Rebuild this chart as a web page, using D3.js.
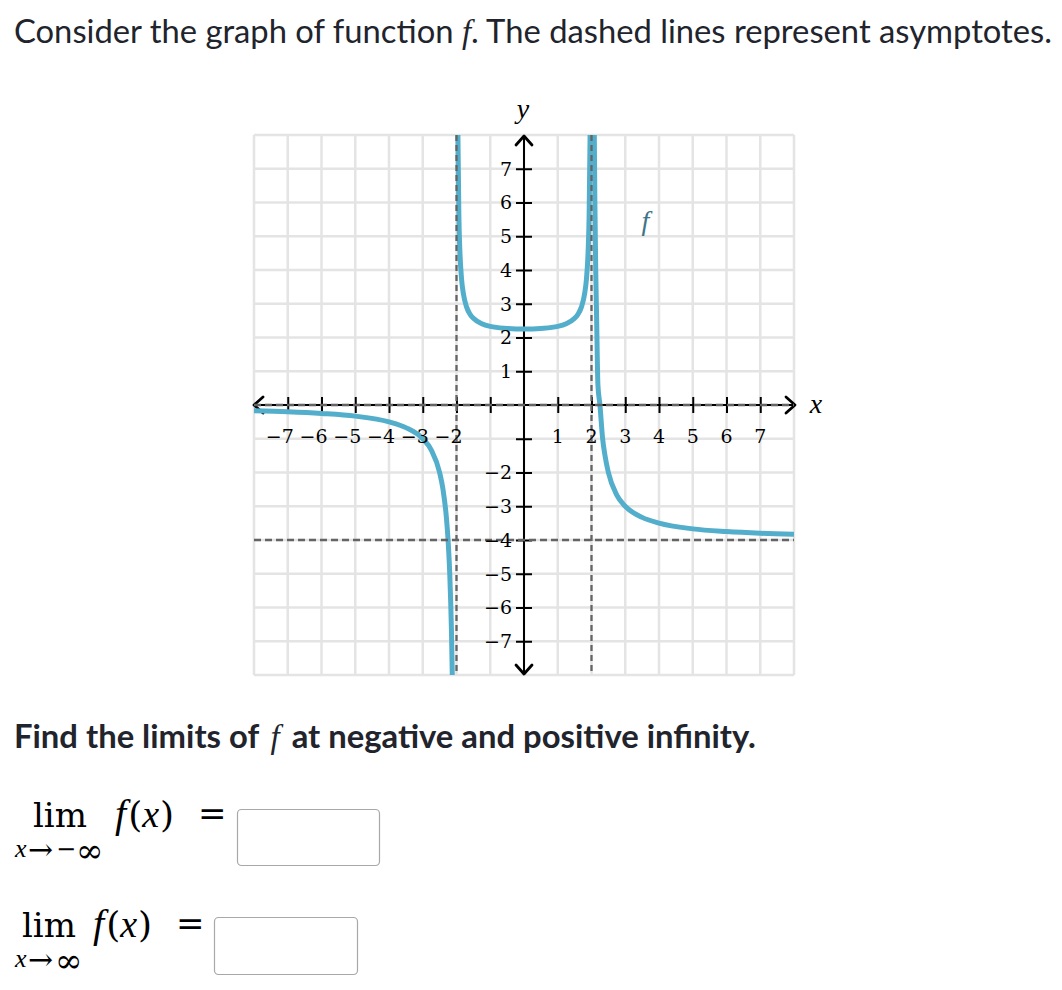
<!DOCTYPE html>
<html>
<head>
<meta charset="utf-8">
<script src="https://cdn.jsdelivr.net/npm/d3@7"></script>
<style>
  html, body { margin: 0; padding: 0; background: #fff; }
  svg { display: block; }
</style>
</head>
<body>
<svg id="chart" width="1062" height="990"></svg>
<script>
// ---------------- data ----------------
const xTickValues = [-7, -6, -5, -4, -3, -2, -1, 1, 2, 3, 4, 5, 6, 7];
const yTickValues = [-7, -6, -5, -4, -3, -2, -1, 1, 2, 3, 4, 5, 6, 7];
const xTickLabels = [-7, -6, -5, -4, -3, -2, 1, 2, 3, 4, 5, 6, 7];
const yTickLabels = [-7, -6, -5, -4, -3, -2, 1, 2, 3, 4, 5, 6, 7];
const gridValues = d3.range(-8, 9);

const verticalAsymptotes = [-2, 2];
const horizontalAsymptotes = [0, -4];

// left branch (x < -2)
const leftX = [-8, -7, -6, -5, -4, -3.5, -3, -2.75, -2.5, -2.4, -2.3, -2.25, -2.2, -2.15, -2.125];
const leftY = [-0.17, -0.2, -0.25, -0.33, -0.5, -0.67, -1, -1.33, -2, -2.5, -3.33, -4, -5, -6.67, -8];
// middle branch (-2 < x < 2)
const midX = [-1.958, -1.93, -1.9, -1.85, -1.8, -1.7, -1.6, -1.5, -1.25, -1, -0.5, 0, 0.5, 1, 1.25, 1.5, 1.6, 1.7, 1.8, 1.85, 1.9, 1.93, 1.958];
const midY = [8, 5.63, 4.56, 3.73, 3.32, 2.9, 2.69, 2.57, 2.41, 2.33, 2.27, 2.25, 2.27, 2.33, 2.41, 2.57, 2.69, 2.9, 3.32, 3.73, 4.56, 5.63, 8];
// right branch (x > 2)
const rightX = [2.083, 2.1, 2.125, 2.15, 2.19, 2.25, 2.33, 2.4, 2.5, 2.75, 3, 3.5, 4, 5, 6, 7, 8];
const rightY = [8, 6, 4, 2.67, 0.6, 0, -1, -1.5, -2, -2.67, -3, -3.33, -3.5, -3.67, -3.75, -3.8, -3.83];

const titleText = "Consider the graph of function ";
const titleText2 = ". The dashed lines represent asymptotes.";
const questionText = "Find the limits of ";
const questionText2 = " at negative and positive infinity.";

// ---------------- setup ----------------
const svg = d3.select("#chart");
const X0 = 254, X1 = 794, Y0 = 675, Y1 = 135;
const x = d3.scaleLinear().domain([-8, 8]).range([X0, X1]);
const y = d3.scaleLinear().domain([-8, 8]).range([Y0, Y1]);

const sansFont = "Lato, 'Open Sans', sans-serif";
const mathFont = "'DejaVu Serif', 'Liberation Serif', serif";
const italFont = "'Liberation Serif', 'DejaVu Serif', serif";
const textColor = "#21242c";

// ---------------- title ----------------
function fitText(sel, targetWidth) {
  const w = sel.node().getComputedTextLength();
  const fs = parseFloat(sel.attr("font-size"));
  sel.attr("font-size", fs * targetWidth / w);
}
const title = svg.append("text")
  .attr("x", 14).attr("y", 43)
  .attr("font-family", sansFont).attr("font-size", 32)
  .attr("fill", textColor);
title.append("tspan").text(titleText);
title.append("tspan").attr("font-family", italFont).attr("font-style", "italic").text("f");
title.append("tspan").text(titleText2);
fitText(title, 1038);

// ---------------- grid ----------------
svg.append("defs").append("clipPath").attr("id", "plotclip")
  .append("rect").attr("x", X0).attr("y", Y1).attr("width", X1 - X0).attr("height", Y0 - Y1);

const grid = svg.append("g").attr("class", "grid");
grid.selectAll("line.v").data(gridValues).join("line")
  .attr("class", "v")
  .attr("x1", d => x(d)).attr("x2", d => x(d))
  .attr("y1", Y1).attr("y2", Y0)
  .attr("stroke", "#e4e4e4").attr("stroke-width", 2.5);
grid.selectAll("line.h").data(gridValues).join("line")
  .attr("class", "h")
  .attr("y1", d => y(d)).attr("y2", d => y(d))
  .attr("x1", X0).attr("x2", X1)
  .attr("stroke", "#e4e4e4").attr("stroke-width", 2.5);

// ---------------- axes ----------------
const axisG = svg.append("g");
const xAxis = d3.axisBottom(x).tickValues(xTickValues).tickSize(8).tickFormat("");
const yAxis = d3.axisLeft(y).tickValues(yTickValues).tickSize(8).tickFormat("");

const gx = axisG.append("g").attr("transform", `translate(0,${y(0)})`).call(xAxis);
gx.select(".domain").remove();
gx.selectAll(".tick line").attr("y1", -8).attr("y2", 8).attr("stroke", "#000").attr("stroke-width", 2);

const gy = axisG.append("g").attr("transform", `translate(${x(0)},0)`).call(yAxis);
gy.select(".domain").remove();
gy.selectAll(".tick line").attr("x1", -8).attr("x2", 8).attr("stroke", "#000").attr("stroke-width", 2);

axisG.append("line").attr("x1", x(-8)).attr("x2", x(8)).attr("y1", y(0)).attr("y2", y(0))
  .attr("stroke", "#000").attr("stroke-width", 2);
axisG.append("line").attr("y1", y(-8)).attr("y2", y(8)).attr("x1", x(0)).attr("x2", x(0))
  .attr("stroke", "#000").attr("stroke-width", 2);

const ah = 9, aw = 8;
function chevron(tx, ty, dx, dy) {
  const px = -dy, py = dx;
  return `M${tx - dx * ah + px * aw},${ty - dy * ah + py * aw}L${tx},${ty}L${tx - dx * ah - px * aw},${ty - dy * ah - py * aw}`;
}
const arrows = [
  [x(8) + 1, y(0), 1, 0],
  [x(-8), y(0), -1, 0],
  [x(0), y(8) + 1, 0, -1],
  [x(0), y(-8) - 1, 0, 1]
];
axisG.selectAll("path.arrow").data(arrows).join("path")
  .attr("class", "arrow")
  .attr("d", d => chevron(...d))
  .attr("fill", "none").attr("stroke", "#000").attr("stroke-width", 2.8)
  .attr("stroke-linejoin", "round").attr("stroke-linecap", "round");

// ---------------- function curve ----------------
const line = d3.line().x(d => x(d[0])).y(d => y(d[1])).curve(d3.curveMonotoneX);
const branches = [
  d3.zip(leftX, leftY),
  d3.zip(midX, midY),
  d3.zip(rightX, rightY)
];
svg.append("g").attr("clip-path", "url(#plotclip)")
  .selectAll("path").data(branches).join("path")
  .attr("d", line)
  .attr("fill", "none").attr("stroke", "#52aecb").attr("stroke-width", 5);

// ---------------- asymptotes ----------------
const asy = svg.append("g");
asy.selectAll("line.va").data(verticalAsymptotes).join("line")
  .attr("class", "va")
  .attr("x1", d => x(d)).attr("x2", d => x(d)).attr("y1", Y1).attr("y2", Y0)
  .attr("stroke", "#646464").attr("stroke-width", 2.3).attr("stroke-dasharray", "6,4");
asy.selectAll("line.ha").data(horizontalAsymptotes).join("line")
  .attr("class", "ha")
  .attr("y1", d => y(d)).attr("y2", d => y(d)).attr("x1", X0).attr("x2", X1)
  .attr("stroke", "#646464").attr("stroke-width", 2.6).attr("stroke-dasharray", "7,4");

// ---------------- tick labels ----------------
const labelSize = 19;
const fmt = d => (d < 0 ? "\u2212" : "") + Math.abs(d);
svg.append("g").selectAll("text").data(xTickLabels).join("text")
  .attr("x", d => d < 0 ? x(d) + labelSize * 0.318 : x(d))
  .attr("y", y(0) + 38)
  .attr("text-anchor", d => d < 0 ? "end" : "middle")
  .attr("font-family", mathFont).attr("font-size", labelSize)
  .attr("fill", "#000")
  .text(fmt);
svg.append("g").selectAll("text").data(yTickLabels).join("text")
  .attr("x", x(0) - 12)
  .attr("y", d => y(d))
  .attr("dy", "0.36em")
  .attr("text-anchor", "end")
  .attr("font-family", mathFont).attr("font-size", labelSize)
  .attr("fill", "#000")
  .text(fmt);

// axis names
svg.append("text").attr("x", x(0) - 1).attr("y", 118).attr("text-anchor", "middle")
  .attr("font-family", italFont).attr("font-style", "italic").attr("font-size", 28)
  .attr("fill", "#000").text("y");
svg.append("text").attr("x", 816).attr("y", y(0) + 8).attr("text-anchor", "middle")
  .attr("font-family", italFont).attr("font-style", "italic").attr("font-size", 28)
  .attr("fill", "#000").text("x");
svg.append("text").attr("x", x(3.6)).attr("y", 230).attr("text-anchor", "middle")
  .attr("font-family", italFont).attr("font-style", "italic").attr("font-size", 28)
  .attr("fill", "#3f7488").text("f");

// ---------------- question ----------------
const q = svg.append("text")
  .attr("x", 14).attr("y", 748)
  .attr("font-family", sansFont).attr("font-weight", "bold").attr("font-size", 30)
  .attr("fill", textColor);
q.append("tspan").text(questionText);
q.append("tspan").attr("font-family", italFont).attr("font-style", "italic").attr("font-weight", "normal").attr("dx", 4).text("f");
q.append("tspan").attr("dx", 4).text(questionText2);
fitText(q, 734);

// ---------------- limit expressions ----------------
// sub pieces: [text, x, font-size, baseline offset, italic]
const limits = [
  { limX: 33, baseY: 827, subY: 857,
    sub: [["x", 15, 26, 0, true], ["\u2192", 28, 30, 3, false], ["\u2212", 56, 24, 0, false], ["\u221E", 76, 33, 5, false]],
    fX: 115, eqX: 198, box: [237, 809, 142, 56] },
  { limX: 22, baseY: 937, subY: 967,
    sub: [["x", 15, 26, 0, true], ["\u2192", 28, 30, 3, false], ["\u221E", 55, 33, 5, false]],
    fX: 93, eqX: 176, box: [214, 917, 143, 57] }
];
const lg = svg.append("g");
limits.forEach(L => {
  lg.append("text").attr("x", L.limX).attr("y", L.baseY)
    .attr("font-family", mathFont).attr("font-size", 34).attr("fill", "#000").text("lim");
  L.sub.forEach(([t, sx, fs, off, it]) => {
    lg.append("text").attr("x", sx).attr("y", L.subY + off)
      .attr("font-family", it ? italFont : mathFont).attr("font-style", it ? "italic" : "normal")
      .attr("font-size", fs).attr("fill", "#000").text(t);
  });
  const f = lg.append("text").attr("x", L.fX).attr("y", L.baseY)
    .attr("font-family", mathFont).attr("font-size", 36).attr("fill", "#000");
  f.append("tspan").attr("font-family", italFont).attr("font-style", "italic").attr("font-size", 40).text("f");
  f.append("tspan").attr("dx", 2).text("(");
  f.append("tspan").attr("font-family", italFont).attr("font-style", "italic").attr("font-size", 38).text("x");
  f.append("tspan").attr("dx", 1).text(")");
  lg.append("text").attr("x", L.eqX).attr("y", L.baseY - 2)
    .attr("font-family", mathFont).attr("font-size", 34).attr("fill", "#000").text("=");
  lg.append("rect").attr("x", L.box[0] + 0.5).attr("y", L.box[1] + 0.5)
    .attr("width", L.box[2]).attr("height", L.box[3]).attr("rx", 4)
    .attr("fill", "#fff").attr("stroke", "#a8a8a8").attr("stroke-width", 1.2);
});
</script>
</body>
</html>
